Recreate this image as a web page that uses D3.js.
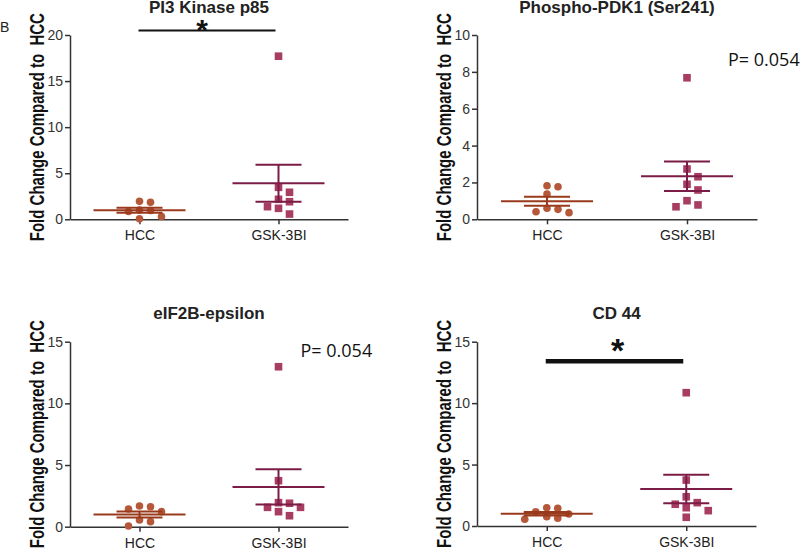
<!DOCTYPE html>
<html><head><meta charset="utf-8">
<script src="https://cdn.jsdelivr.net/npm/d3@7"></script>
<style>
body{margin:0;background:#fff;}
svg{display:block;font-family:"Liberation Sans",Arial,sans-serif;}
</style></head><body>
<svg id="chart" width="800" height="550"></svg>
<script>
// ---------- data ----------
const categories = ["HCC", "GSK-3BI"];
const panelTitles = ["PI3 Kinase p85", "Phospho-PDK1 (Ser241)", "eIF2B-epsilon", "CD 44"];
const yAxisMax = [20, 10, 15, 15];
const yTickValues = [[0, 5, 10, 15, 20], [0, 2, 4, 6, 8, 10], [0, 5, 10, 15], [0, 5, 10, 15]];
const hccFold = [
  [1.95, 1.85, 0.95, 0.85, 0.05, 0.30, 1.00],
  [1.77, 1.82, 1.37, 0.54, 0.36, 0.41, 0.60],
  [1.68, 1.43, 1.22, 1.62, 0.54, 0.41, 0.06],
  [1.49, 1.16, 0.76, 0.55, 0.63, 0.98, 1.44]
];
const gskFold = [
  [17.70, 3.47, 2.93, 2.17, 1.91, 1.37, 1.19, 0.57],
  [7.68, 2.73, 2.31, 1.90, 1.59, 1.01, 0.68, 0.78],
  [12.97, 3.73, 1.95, 1.90, 1.57, 1.57, 1.22, 0.89],
  [10.85, 3.74, 2.38, 1.90, 1.77, 1.49, 1.25, 0.71]
];
const annotations = ["*", "P= 0.054", "P= 0.054", "*"];
const sigBarLevel = [20.5, null, null, 13.4];
const annotationLevel = [21.2, 8.3, 13.75, 14.85];
const yAxisLabel = "Fold Change Compared to  HCC";
const figureLetter = "B";

// ---------- layout (pixels / styles) ----------
const layout = [
  {left: 70,  right: 348, top: 35,    bottom: 219.3, titleY: 13,  annDx: -7, barW: 2},
  {left: 477, right: 757, top: 35,    bottom: 219.3, titleY: 13,  annDx: 41, barW: 2},
  {left: 70,  right: 348, top: 341.7, bottom: 526.7, titleY: 319, annDx: 22, barW: 2},
  {left: 477, right: 756, top: 341.7, bottom: 526,   titleY: 319, annDx: 1,  barW: 4.5}
];
const colors = {
  hccPoint: "#b5583a", hccLine: "#9a3a1c",
  gskPoint: "#a73d62", gskLine: "#7a1c45",
  axis: "#333", text: "#222"
};

const svg = d3.select("#chart");

svg.append("text").attr("x", 0).attr("y", 32)
  .attr("font-size", 14).attr("fill", colors.text).text(figureLetter);

function mean(a){ return d3.mean(a); }
function sem(a){ return d3.deviation(a) / Math.sqrt(a.length); }

function swarm(vals, y, cx, step, minDy){
  const order = vals.map((v, i) => i).sort((a, b) => vals[b] - vals[a]);
  const placed = [], out = new Array(vals.length);
  for (const i of order){
    const py = y(vals[i]);
    for (let k = 0; k < 30; k++){
      const off = k === 0 ? 0 : (k % 2 ? 1 : -1) * Math.ceil(k / 2) * step;
      if (placed.every(p => Math.abs(p.x - off) >= step - 0.01 || Math.abs(p.y - py) >= minDy)){
        out[i] = {x: cx + off, y: py, v: vals[i]};
        placed.push({x: off, y: py});
        break;
      }
    }
  }
  return out;
}

panelTitles.forEach((title, p) => {
  const L = layout[p];
  const g = svg.append("g");
  const x = d3.scalePoint().domain(categories).range([L.left, L.right]).padding(0.5);
  const y = d3.scaleLinear().domain([0, yAxisMax[p]]).range([L.bottom, L.top]);

  // y axis
  const ya = g.append("g").attr("transform", `translate(${L.left},0)`)
    .call(d3.axisLeft(y).tickValues(yTickValues[p]).tickSize(5).tickSizeOuter(0).tickPadding(2));
  ya.select(".domain").attr("stroke", colors.axis).attr("stroke-width", 1.5);
  ya.selectAll(".tick line").attr("stroke", colors.axis).attr("stroke-width", 1.5);
  ya.selectAll(".tick text").attr("font-size", 14).attr("fill", colors.axis)
    .attr("font-family", "Liberation Sans, Arial, sans-serif");

  // x axis
  const xa = g.append("g").attr("transform", `translate(0,${L.bottom})`)
    .call(d3.axisBottom(x).tickSize(5).tickSizeOuter(0).tickPadding(6));
  xa.select(".domain").attr("stroke", colors.axis).attr("stroke-width", 1.5);
  xa.selectAll(".tick line").attr("stroke", colors.axis).attr("stroke-width", 1.5);
  xa.selectAll(".tick text").attr("font-size", 14).attr("fill", colors.text)
    .attr("font-family", "Liberation Sans, Arial, sans-serif");

  // title
  g.append("text").attr("x", (L.left + L.right) / 2).attr("y", L.titleY)
    .attr("text-anchor", "middle").attr("font-size", 17).attr("font-weight", "bold")
    .attr("fill", colors.text).text(title);

  // y label
  g.append("text")
    .attr("transform", `translate(${L.left - 33},${(L.top + L.bottom) / 2}) rotate(-90) scale(1,1.3)`)
    .attr("text-anchor", "middle").attr("dy", "0.35em")
    .attr("font-size", 15).attr("font-weight", "bold").attr("fill", "#111")
    .style("white-space", "pre").text(yAxisLabel);

  const groups = [
    {vals: hccFold[p], cat: categories[0], pc: colors.hccPoint, lc: colors.hccLine, shape: "circle"},
    {vals: gskFold[p], cat: categories[1], pc: colors.gskPoint, lc: colors.gskLine, shape: "square"}
  ];

  groups.forEach(G => {
    const cx = x(G.cat);
    const pts = swarm(G.vals, y, cx, 11, 8);
    if (G.shape === "circle"){
      g.selectAll(null).data(pts).enter().append("circle")
        .attr("cx", d => d.x).attr("cy", d => d.y).attr("r", 3.8).attr("fill", G.pc);
    } else {
      g.selectAll(null).data(pts).enter().append("rect")
        .attr("x", d => d.x - 3.8).attr("y", d => d.y - 3.8)
        .attr("width", 7.6).attr("height", 7.6).attr("fill", G.pc);
    }
    const m = mean(G.vals), s = sem(G.vals);
    const lg = g.append("g").attr("stroke", G.lc).attr("stroke-width", 2);
    lg.append("line").attr("x1", cx - 46).attr("x2", cx + 46).attr("y1", y(m)).attr("y2", y(m));
    lg.append("line").attr("x1", cx).attr("x2", cx).attr("y1", y(m - s)).attr("y2", y(m + s));
    [m - s, m + s].forEach(v => {
      lg.append("line").attr("x1", cx - 23).attr("x2", cx + 23).attr("y1", y(v)).attr("y2", y(v));
    });
  });

  // significance
  const ann = annotations[p];
  if (sigBarLevel[p] !== null){
    g.append("line").attr("x1", x(categories[0]) - 1).attr("x2", x(categories[1]) - 3)
      .attr("y1", y(sigBarLevel[p])).attr("y2", y(sigBarLevel[p]))
      .attr("stroke", "#111").attr("stroke-width", L.barW);
    g.append("text").attr("x", (x(categories[0]) + x(categories[1])) / 2 + L.annDx)
      .attr("y", y(annotationLevel[p])).attr("dy", "0.55em")
      .attr("text-anchor", "middle").attr("font-size", p === 0 ? 30 : 34)
      .attr("font-weight", "bold").attr("fill", "#111").text(ann);
  } else {
    g.append("text").attr("x", x(categories[1]) + L.annDx).attr("y", y(annotationLevel[p]))
      .attr("font-family", "Open Sans, sans-serif").attr("font-size", 18)
      .attr("fill", "#111").text(ann);
  }
});
</script>
</body></html>
